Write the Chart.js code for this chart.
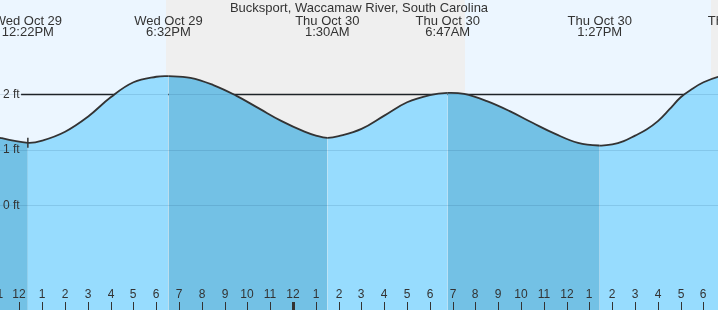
<!DOCTYPE html>
<html>
<head>
<meta charset="utf-8">
<script src="https://cdn.jsdelivr.net/npm/chart.js@4.4.1/dist/chart.umd.min.js"></script>
<style>
  html, body { margin: 0; padding: 0; background: #fff; }
  #chart { display: block; }
</style>
</head>
<body>
<canvas id="chart" width="718" height="310"></canvas>
<script>
(function () {
    var stationName = 'Bucksport, Waccamaw River, South Carolina';

    // time in hours after noon, Wed Oct 29; height in feet
    var tideHours = [-1.5, -0.855, 0.367, 1, 2, 3, 4, 5, 6, 6.533,
        7.5, 8.5, 9.5, 10.5, 11.5, 12.5, 13, 13.5,
        14, 15, 16, 17, 18, 18.783,
        19.5, 20.5, 21.5, 22.5, 23.5, 24.5, 25.45,
        26, 26.5, 27, 27.5, 28, 28.5, 29, 29.5, 30, 30.64, 31.3];
    var tideFeet = [1.32, 1.22, 1.13, 1.17, 1.33, 1.60, 1.95, 2.22, 2.32, 2.33,
        2.30, 2.17, 1.98, 1.75, 1.52, 1.33, 1.26, 1.22,
        1.25, 1.38, 1.62, 1.86, 1.99, 2.03,
        2.01, 1.88, 1.70, 1.49, 1.29, 1.13, 1.08,
        1.10, 1.16, 1.26, 1.37, 1.52, 1.73, 1.95, 2.10, 2.22, 2.32, 2.37];

    var extremeHours = [0.367, 6.533, 13.5, 18.783, 25.45, 31.6];
    var extremeDays = ['Wed Oct 29', 'Wed Oct 29', 'Thu Oct 30', 'Thu Oct 30', 'Thu Oct 30', 'Thu Oct 30'];
    var extremeTimes = ['12:22PM', '6:32PM', '1:30AM', '6:47AM', '1:27PM', '7:36PM'];

    var nightStarts = [6.43, 30.35];
    var nightEnds = [19.55, 40];

    var markerHour = 0.367;
    var mhhwFeet = 2;
    var mhhwFrom = 0.07;

    var xMin = -0.855, xMax = 30.636;
    var yMin = -1.883, yMax = 3.703;

    var dayColor = '#ECF6FF';
    var nightColor = '#EFEFEF';
    var lightWater = '#97DCFE';
    var darkWater = '#73C1E5';
    var textColor = '#333333';
    var fontFamily = '"Liberation Sans", Arial, sans-serif';

    var tidePoints = tideHours.map(function (h, i) {
        return { x: h, y: tideFeet[i] };
    });

    var skyPlugin = {
        id: 'sky',
        beforeDraw: function (chart) {
            var c = chart.ctx, a = chart.chartArea, xs = chart.scales.x;
            c.save();
            c.fillStyle = dayColor;
            c.fillRect(a.left, a.top, a.right - a.left, a.bottom - a.top);
            c.fillStyle = nightColor;
            nightStarts.forEach(function (s, i) {
                var x0 = Math.round(xs.getPixelForValue(s));
                var x1 = Math.round(xs.getPixelForValue(nightEnds[i]));
                c.fillRect(x0, a.top, x1 - x0, a.bottom - a.top);
            });
            c.restore();
        }
    };

    var textPlugin = {
        id: 'tideText',
        afterDraw: function (chart) {
            var c = chart.ctx, a = chart.chartArea, xs = chart.scales.x;
            c.save();
            c.fillStyle = textColor;
            c.textAlign = 'center';
            c.textBaseline = 'middle';
            c.font = '13px ' + fontFamily;
            c.fillText(stationName, (a.left + a.right) / 2, 8);
            extremeHours.forEach(function (h, i) {
                var px = xs.getPixelForValue(h);
                c.fillText(extremeDays[i], px, 21);
                c.fillText(extremeTimes[i], px, 32);
            });

            // hour ticks along the bottom
            c.font = '12px ' + fontFamily;
            for (var h = Math.floor(xMin); h <= Math.ceil(xMax); h++) {
                var px = Math.round(xs.getPixelForValue(h));
                var hr = ((h % 12) + 12) % 12 || 12;
                var midnight = ((h % 24) + 24) % 24 === 12;
                c.fillText(String(hr), px, 295);
                if (midnight) {
                    c.fillRect(px - 1, 302, 3, 8);
                } else {
                    c.fillRect(px, 302, 1, 8);
                }
            }
            c.restore();
        }
    };

    var ctx = document.getElementById('chart').getContext('2d');

    new Chart(ctx, {
        type: 'line',
        data: {
            datasets: [{
                data: tidePoints,
                borderColor: '#333333',
                borderWidth: 1.8,
                backgroundColor: lightWater,
                fill: 'start',
                tension: 0.4,
                segment: {
                    backgroundColor: function (c) {
                        return c.p1.parsed.y < c.p0.parsed.y ? darkWater : lightWater;
                    }
                },
                pointStyle: 'line',
                rotation: 90,
                pointBorderColor: '#333333',
                pointBorderWidth: 1.5,
                pointRadius: function (c) {
                    return c.raw && c.raw.x === markerHour ? 5 : 0;
                }
            }, {
                // datum line, sits under the water
                data: [{ x: mhhwFrom, y: mhhwFeet }, { x: xMax + 1, y: mhhwFeet }],
                borderColor: '#222222',
                borderWidth: 1.3,
                pointRadius: 0,
                fill: false
            }]
        },
        options: {
            responsive: false,
            animation: false,
            events: [],
            layout: { padding: 0 },
            plugins: {
                legend: { display: false },
                tooltip: { enabled: false },
                title: { display: false }
            },
            scales: {
                x: {
                    type: 'linear',
                    min: xMin,
                    max: xMax,
                    display: false
                },
                y: {
                    type: 'linear',
                    min: yMin,
                    max: yMax,
                    position: 'left',
                    border: { display: false },
                    grid: {
                        color: 'rgba(0, 50, 90, 0.12)',
                        drawTicks: false,
                        z: 1
                    },
                    ticks: {
                        mirror: true,
                        padding: 3,
                        stepSize: 1,
                        z: 1,
                        color: textColor,
                        font: { size: 12, family: fontFamily },
                        callback: function (v) { return v + ' ft'; }
                    },
                    afterBuildTicks: function (scale) {
                        scale.ticks = scale.ticks.filter(function (t) {
                            return t.value >= 0 && t.value <= 2;
                        });
                    },
                    afterFit: function (scale) {
                        scale.width = 0;
                        scale.paddingTop = 0;
                        scale.paddingBottom = 0;
                    }
                }
            }
        },
        plugins: [skyPlugin, textPlugin]
    });
}());
</script>
</body>
</html>
